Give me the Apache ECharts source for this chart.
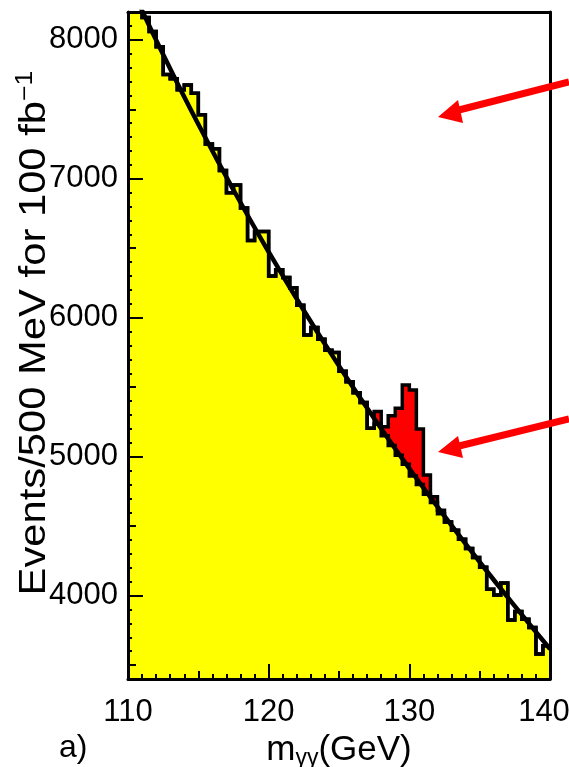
<!DOCTYPE html>
<html>
<head>
<meta charset="utf-8">
<script src="https://cdn.jsdelivr.net/npm/echarts@6/dist/echarts.min.js"></script>
<style>
  html, body { margin: 0; padding: 0; background: #fff; }
  #chart { width: 569px; height: 767px; }
</style>
</head>
<body>
<div id="chart"></div>
<script>
// Diphoton invariant-mass spectrum, 500 MeV bins from 110 to 140 GeV
const massRange = [110, 140];
const binWidth = 0.5;
const eventRange = [3400, 8200];

// Background events per bin
const background = [
  8320, 8230, 8160, 8060, 7950, 7750, 7720, 7640, 7675, 7615,
  7460, 7250, 7215, 7060, 6900, 6955, 6790, 6555, 6620, 6620,
  6300, 6345, 6290, 6215, 6090, 5875, 5930, 5845, 5765, 5750,
  5615, 5540, 5460, 5390, 5205, 5235, 5150, 5080, 5010, 4945,
  4860, 4800, 4730, 4670, 4590, 4530, 4470, 4405, 4340, 4275,
  4205, 4045, 4005, 4090, 3825, 3885, 3830, 3770, 3580, 3640
];

// Higgs signal events per bin, stacked on the background
const signal = [
  0, 0, 0, 0, 0, 0, 0, 0, 0, 0,
  0, 0, 0, 0, 0, 0, 0, 0, 0, 0,
  0, 0, 0, 0, 0, 0, 0, 0, 0, 0,
  0, 0, 0, 0, 0, 90, 66, 215, 338, 571,
  620, 399, 138, 42, 25, 0, 0, 0, 0, 0,
  0, 0, 0, 0, 0, 0, 0, 0, 0, 0
];

// Background fit curve
const fitMass = [110.9, 112.5, 115, 117.5, 120, 122.5, 125, 127.5, 130, 132.5, 135, 137.5, 140];
const fitEvents = [8232, 7894, 7392, 6919, 6473, 6052, 5653, 5275, 4915, 4572, 4242, 3924, 3616];

// Axis ticks
const xMajorTicks = [110, 120, 130, 140];
const xMidTicks = [115, 125, 135];
const yMajorTicks = [4000, 5000, 6000, 7000, 8000];
const yMidTicks = [3500, 4500, 5500, 6500, 7500];

const FONT = '"Liberation Sans", Arial, Helvetica, sans-serif';

function stepPoints(values) {
  const pts = values.map((v, i) => [massRange[0] + i * binWidth, v]);
  pts.push([massRange[1], values[values.length - 1]]);
  return pts;
}
const total = background.map((b, i) => b + signal[i]);
const fitData = fitMass.map((m, i) => [m, fitEvents[i]]);

const chart = echarts.init(document.getElementById('chart'), null, { renderer: 'canvas' });

const hiddenX = (extra) => Object.assign({
  type: 'value', min: massRange[0], max: massRange[1], gridIndex: 0,
  axisLine: { show: false }, axisLabel: { show: false }, splitLine: { show: false }, z: 10
}, extra);
const hiddenY = (extra) => Object.assign({
  type: 'value', min: eventRange[0], max: eventRange[1], gridIndex: 0,
  axisLine: { show: false }, axisLabel: { show: false }, splitLine: { show: false }, z: 10
}, extra);

chart.setOption({
  animation: false,
  backgroundColor: '#ffffff',
  grid: { left: 128, right: 19, top: 12, bottom: 88, containLabel: false, outerBoundsMode: 'none' },
  xAxis: [
    {
      type: 'value', min: massRange[0], max: massRange[1], interval: 10,
      position: 'bottom', z: 10,
      axisLine: { show: true, onZero: false, lineStyle: { color: '#000', width: 3 } },
      axisTick: { show: true, inside: true, length: 15, lineStyle: { color: '#000', width: 2 }, customValues: xMajorTicks },
      axisLabel: {
        show: true, margin: 18, color: '#000', fontSize: 31, fontFamily: FONT, customValues: xMajorTicks,
        // the last label is nudged inwards so it stays inside the page
        formatter: (v) => (v === massRange[1] ? '{edge|' + v + '}' : String(v)),
        rich: { edge: { fontSize: 31, fontFamily: FONT, color: '#000', padding: [0, 12, 0, 0] } }
      },
      splitLine: { show: false },
      name: '{m|m}{s|γγ}{m|(GeV)}',
      nameLocation: 'middle',
      nameGap: 48,
      nameTextStyle: {
        rich: {
          m: { fontSize: 35, fontFamily: FONT, color: '#000' },
          s: { fontSize: 23, fontFamily: FONT, color: '#000', verticalAlign: 'bottom', padding: [16, 0, 0, 0] }
        }
      }
    },
    hiddenX({ position: 'bottom', axisTick: { show: true, inside: true, length: 8, lineStyle: { color: '#000', width: 2 }, customValues: xMidTicks } }),
    hiddenX({ position: 'bottom', interval: 1, axisTick: { show: true, inside: true, length: 5, lineStyle: { color: '#000', width: 2 } } }),
    hiddenX({ position: 'top', axisLine: { show: true, onZero: false, lineStyle: { color: '#000', width: 3 } }, axisTick: { show: false } })
  ],
  yAxis: [
    {
      type: 'value', min: eventRange[0], max: eventRange[1],
      position: 'left', z: 10,
      axisLine: { show: true, onZero: false, lineStyle: { color: '#000', width: 3 } },
      axisTick: { show: true, inside: true, length: 15, lineStyle: { color: '#000', width: 2 }, customValues: yMajorTicks },
      axisLabel: { show: true, margin: 10, color: '#000', fontSize: 31, fontFamily: FONT, customValues: yMajorTicks, formatter: (v) => String(v) },
      splitLine: { show: false }
    },
    hiddenY({ position: 'left', axisTick: { show: true, inside: true, length: 8, lineStyle: { color: '#000', width: 2 }, customValues: yMidTicks } }),
    hiddenY({ position: 'left', interval: 100, axisTick: { show: true, inside: true, length: 4, lineStyle: { color: '#000', width: 2 } } }),
    hiddenY({ position: 'right', axisLine: { show: true, onZero: false, lineStyle: { color: '#000', width: 3 } }, axisTick: { show: false } })
  ],
  series: [
    {
      name: 'signal + background', type: 'line', step: 'end', data: stepPoints(total),
      symbol: 'none', z: 2, lineStyle: { width: 0 },
      areaStyle: { color: '#ff0000', opacity: 1, origin: 'start' }
    },
    {
      name: 'background', type: 'line', step: 'end', data: stepPoints(background),
      symbol: 'none', z: 3, lineStyle: { width: 0 },
      areaStyle: { color: '#ffff00', opacity: 1, origin: 'start' }
    },
    {
      name: 'background outline', type: 'line', step: 'end', data: stepPoints(background),
      symbol: 'none', z: 4, lineStyle: { color: '#000', width: 3.5, join: 'miter' }
    },
    {
      name: 'total outline', type: 'line', step: 'end', data: stepPoints(total),
      symbol: 'none', z: 5, lineStyle: { color: '#000', width: 3.5, join: 'miter' }
    },
    {
      name: 'fit', type: 'line', data: fitData, smooth: true,
      symbol: 'none', z: 6, lineStyle: { color: '#000', width: 4.5 }
    }
  ],
  graphic: [
    {
      type: 'text', x: 35, y: 333, rotation: Math.PI / 2, scaleX: 1.16, z: 20,
      style: {
        text: '{t|Events/500 MeV for 100 fb}{u|−1}',
        align: 'center', verticalAlign: 'middle',
        rich: {
          t: { fontSize: 36, fontFamily: FONT, fill: '#000' },
          u: { fontSize: 23, fontFamily: FONT, fill: '#000', verticalAlign: 'top', padding: [0, 0, 18, 0] }
        }
      }
    },
    {
      type: 'text', x: 59, y: 732, z: 20,
      style: { text: 'a)', fontSize: 32, fontFamily: FONT, fill: '#000' }
    },
    // annotation arrows
    {
      type: 'polyline', z: 30,
      shape: { points: [[569, 82], [455, 111]] },
      style: { stroke: '#ff0000', lineWidth: 7 }
    },
    {
      type: 'polygon', z: 30,
      shape: { points: [[438, 117], [458, 100], [463, 123]] },
      style: { fill: '#ff0000' }
    },
    {
      type: 'polyline', z: 30,
      shape: { points: [[569, 419], [455, 447]] },
      style: { stroke: '#ff0000', lineWidth: 7 }
    },
    {
      type: 'polygon', z: 30,
      shape: { points: [[438, 452], [458, 436], [463, 458]] },
      style: { fill: '#ff0000' }
    }
  ]
});
</script>
</body>
</html>
